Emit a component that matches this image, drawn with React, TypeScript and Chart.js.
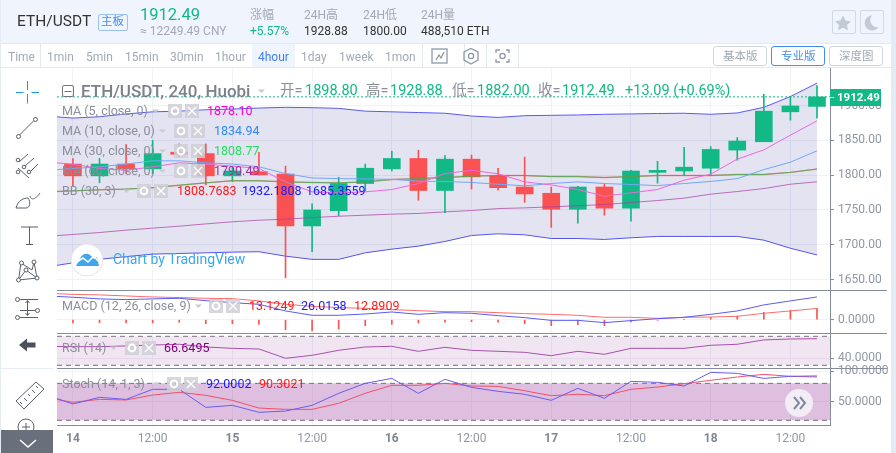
import { useEffect, useRef } from 'react'
import { Chart, registerables } from 'chart.js'

Chart.register(...registerables)

// candles, index 0 is the 14th 00:00, one candle every 4 hours
const opens = [1816, 1799, 1816, 1809, 1833, 1831, 1799, 1805, 1801.5, 1727, 1749, 1788, 1809, 1824, 1778, 1823, 1799, 1783, 1774, 1751, 1783, 1752.6, 1804, 1806, 1810, 1836, 1848, 1891, 1898.8]
const closes = [1799, 1816, 1809, 1831, 1830, 1799, 1806, 1800.5, 1727, 1750, 1788, 1810, 1824, 1778, 1823, 1797.6, 1782, 1773, 1751, 1783, 1752.6, 1806, 1807, 1811.5, 1837, 1849, 1892, 1899.4, 1912.49]
const highs = [1824, 1824, 1844, 1850, 1845, 1845, 1812, 1833, 1813, 1759, 1797, 1816, 1834.5, 1836, 1828, 1829, 1810, 1826, 1783, 1784, 1787, 1807, 1820, 1840, 1841, 1854, 1916, 1913, 1928.88]
const lows = [1784, 1789, 1802, 1802, 1826, 1786, 1791, 1800, 1652.5, 1690, 1742, 1777, 1806, 1764, 1746, 1780, 1778.5, 1761, 1725, 1731, 1742.5, 1734, 1788.5, 1800, 1800, 1821.5, 1848, 1879, 1882]

// line series start one candle earlier, index -1, off the left edge
const ma5 = [1819, 1815.8, 1809.6, 1807, 1812, 1817.7, 1815.8, 1813, 1809.6, 1790.4, 1776, 1774.6, 1776, 1779.4, 1788, 1802.4, 1807, 1802, 1790.4, 1786, 1779.4, 1769.8, 1774.6, 1779.4, 1792.8, 1801.4, 1823, 1836.4, 1857.5, 1878.1]
const ma10 = [1807, 1809.6, 1812, 1816, 1820.6, 1820.6, 1817.7, 1816, 1812, 1802.4, 1796, 1795, 1794.7, 1794, 1791.4, 1791, 1789.5, 1787, 1784.7, 1788, 1790.4, 1788, 1786.6, 1785, 1788, 1791, 1795, 1808, 1818.7, 1834.94]
const ma30 = [1776, 1777.5, 1779, 1780, 1782, 1785.6, 1789, 1792, 1792, 1790.4, 1789.5, 1789, 1790.4, 1793.8, 1795, 1796.6, 1798.6, 1799.5, 1799.5, 1798, 1798, 1796.6, 1798, 1799.5, 1799.5, 1799.5, 1801, 1801, 1804, 1808.77]
const ma60 = [1712, 1714.8, 1717.6, 1721, 1723.9, 1726.7, 1730, 1733, 1735.3, 1736.8, 1739, 1741, 1742.5, 1744, 1745, 1747.3, 1749.2, 1752, 1753, 1754.5, 1756, 1757.9, 1760.7, 1763.6, 1767, 1772.7, 1776.5, 1780.8, 1787, 1790.49]
const bbUpper = [1885, 1882, 1884, 1888, 1891, 1892, 1894, 1895, 1896.5, 1897.5, 1897, 1896, 1892, 1891, 1890, 1889, 1885, 1883, 1885.5, 1886, 1886.5, 1887.5, 1888, 1888.6, 1889, 1887.5, 1889.4, 1897.5, 1913, 1932.18]
const bbLower = [1668, 1674, 1679, 1683, 1686.5, 1687.5, 1688.4, 1689.4, 1690, 1683.6, 1679, 1679, 1688.4, 1693.7, 1698, 1704.7, 1713.3, 1715.7, 1714.3, 1709, 1709, 1707.6, 1710, 1712, 1712, 1712, 1712, 1706.6, 1695, 1685.36]
const macdLine = [27.2, 25.7, 23.8, 23, 23.8, 24.5, 21.8, 19.5, 17.6, 10, 5, 5, 6.5, 8.8, 6.1, 8, 7.3, 4.6, 2.3, -0.8, -0.8, -3.4, -1.1, 1.1, 2.7, 6.1, 10, 16.9, 21.5, 26.02]
const macdSignal = [30.3, 29, 28.4, 27.2, 26, 25.3, 24.5, 24.1, 21.5, 17.6, 15.3, 13.8, 13, 11.5, 10.3, 9.2, 9.2, 8, 6.9, 6.1, 5, 2.7, 2.7, 1.5, 2.7, 3, 3.8, 7.3, 10, 12.89]
const macdHist = [-3.8, -3.4, -3.8, -3.8, -3, -4.6, -4.6, -5.4, -11.5, -13, -10.7, -7, -5.4, -3.8, -3, -2.3, -3, -4.6, -6.9, -5.7, -6.9, -2.7, -0.8, 0, 2.7, 4.2, 8.4, 10.7, 13.12]
const rsi = [56.2, 55.7, 55.7, 56.7, 58, 59, 55.3, 53.4, 52.5, 39.7, 43.8, 50.7, 55.3, 56.2, 49.3, 54.8, 50.7, 49.3, 47.9, 43.3, 49.3, 45.2, 53.4, 53.4, 53.4, 57.6, 59, 65, 66.3, 66.65]
const stochK = [61, 46.5, 57.3, 54, 70.3, 70.3, 41, 44.3, 33, 35, 44.3, 63.8, 80, 88, 63.8, 86.5, 73.5, 67, 62.2, 52.4, 71.9, 55.7, 83.2, 81.6, 75.7, 97.8, 96.2, 88, 91.4, 92]
const stochD = [56.8, 49.2, 54, 53, 61, 65.4, 60.5, 52.4, 39.9, 37.8, 37.8, 47.6, 63.8, 76.8, 76.8, 80, 75.7, 75.1, 68, 60, 62.2, 60, 70.3, 74, 79.5, 84.9, 90.3, 94.6, 91.4, 90.3]

const lastPrice = 1912.49
const xTicks = [0, 3, 6, 9, 12, 15, 18, 21, 24, 27]
const xTickLabels = ['14', '12:00', '15', '12:00', '16', '12:00', '17', '12:00', '18', '12:00']
const priceTicks = [1650, 1700, 1750, 1800, 1850, 1900]
const macdTicks = [0]
const rsiTicks = [40]
const stochTicks = [50, 100]

const periods = ['1min', '5min', '15min', '30min', '1hour', '4hour', '1day', '1week', '1mon']

const GREEN = '#12b886'
const RED = '#fa5252'
const AXIS = '#868d9a'
const GRID = '#f0f2f8'
const TICK = '#8f98a3'
const X_MIN = -0.6
const X_MAX = 28.49
const FONT = 'Roboto, "Noto Sans CJK SC", sans-serif'

const line = (values: number[]) => values.map((y, i) => ({ x: i - 1, y }))
const hline = (y: number) => [{ x: X_MIN, y }, { x: X_MAX, y }]

function lineSet(data: { x: number; y: number }[], color: string, yAxisID: string, extra: object = {}) {
  return { type: 'line', data, yAxisID, borderColor: color, borderWidth: 1, pointRadius: 0, tension: 0, fill: false, order: 1, ...extra }
}

// tick labels must not push the plot area in, the panes have fixed sizes
function noLabelPadding(scale: any) {
  scale.paddingTop = 0
  scale.paddingBottom = 0
  scale.paddingLeft = 0
  scale.paddingRight = 0
}

function paneAxis(min: number, max: number, weight: number, ticks: number[], decimals: number) {
  return {
    type: 'linear',
    position: 'right',
    stack: 'panes',
    stackWeight: weight,
    min,
    max,
    border: { color: AXIS },
    grid: { color: GRID, tickColor: AXIS, tickLength: 4 },
    afterFit: (scale: any) => {
      scale.width = 61
      noLabelPadding(scale)
    },
    afterBuildTicks: (scale: any) => { scale.ticks = ticks.map(value => ({ value })) },
    ticks: {
      color: TICK,
      padding: 4,
      font: { family: FONT, size: 12 },
      callback: (v: any) => Number(v).toFixed(decimals),
    },
  }
}

// horizontal rules between the panes
const paneRules = {
  id: 'paneRules',
  afterDraw(chart: any) {
    const { ctx, chartArea } = chart
    ctx.save()
    ctx.strokeStyle = AXIS
    ctx.lineWidth = 1
    ;['yPrice', 'yMacd', 'yRsi'].forEach(id => {
      const y = Math.round(chart.scales[id].bottom) + 0.5
      ctx.beginPath()
      ctx.moveTo(chartArea.left, y)
      ctx.lineTo(chartArea.right + 57, y)
      ctx.stroke()
    })
    ctx.restore()
  },
}

function Txt({ x, y, size = 12, color = '#8a8f9a', weight = 400, children }: any) {
  return (
    <span
      style={{
        position: 'absolute',
        left: x,
        top: y,
        transform: 'translateY(-50%)',
        fontFamily: FONT,
        fontSize: size,
        fontWeight: weight,
        color,
        whiteSpace: 'nowrap',
        lineHeight: 1,
        pointerEvents: 'none',
      }}
    >
      {children}
    </span>
  )
}

function Icons() {
  const stroke = '#5a6069'
  const gearBoxes = [[168, 104], [174, 124], [174, 144], [174, 164], [137, 184], [209, 299], [125, 341], [167, 377]]
  const carets = [[152, 111], [159, 131], [159, 151], [159, 171], [123, 191], [195, 306], [110, 348], [153, 384], [258, 91]]
  return (
    <svg width={896} height={453} style={{ position: 'absolute', left: 0, top: 0, pointerEvents: 'none' }}>
      {/* left tools */}
      <g stroke="#1e96e6" strokeWidth={1}>
        <path d="M27.5 81v9M27.5 94v9.5M16 92.5h7.5M31.5 92.5h7.5" fill="none" />
      </g>
      <g stroke={stroke} strokeWidth={1} fill="#fff">
        <path d="M19.5 135L34 120.5" />
        <circle cx={18.5} cy={136.5} r={2} />
        <circle cx={35.5} cy={119.5} r={2} />
        <path d="M19 162L28 154M25 166L34 158M31 171L38 164M18 168L29 178" fill="none" />
        <circle cx={18} cy={160} r={1.8} />
        <circle cx={24} cy={167} r={1.8} />
        <circle cx={18} cy={172} r={1.8} />
        <circle cx={29} cy={172} r={1.8} />
        <path d="M16 208C18 200 24 198 28 198C31 202 30 208 26 208ZM30 196C31 201 36 199 40 193" fill="none" />
        <path d="M21 227H38M29.5 227V244.5M26 244.5H33" fill="none" />
        <path d="M18.5 280L21 263L32 270L34 262L37 278L26 270L18.5 280L37 278" fill="none" />
        <circle cx={21.5} cy={263} r={2} />
        <circle cx={34} cy={262} r={2} />
        <circle cx={26} cy={270} r={2} />
        <circle cx={18.5} cy={280} r={2} />
        <circle cx={37} cy={278} r={2} />
        <path d="M20 299.5H38M20 310.5H38M20 317.5H38M27.5 301V315M25.5 303L27.5 300.5L29.5 303M25.5 313L27.5 315.5L29.5 313" fill="none" />
        <circle cx={17.5} cy={299.5} r={2} />
        <circle cx={37.5} cy={310.5} r={2} />
        <circle cx={17.5} cy={317.5} r={2} />
        <path d="M16 401L36 382L44 389L24 409Z" fill="none" />
        <path d="M20 402L22 404M24 398L27 401M28 394L30 396M32 390L35 393M36 386L38 388" fill="none" />
        <circle cx={26} cy={427} r={8} fill="none" />
        <path d="M22 427H30M26 423V431M20 433L15 438" fill="none" />
      </g>
      <path d="M19 345L27 338.5V342.5H35.5V347.5H27V351.5Z" fill="#4b505a" />
      {/* bottom left block */}
      <rect x={1} y={430} width={52} height={23} fill="#6a6f7c" />
      <path d="M20 440L28 447L36 440" stroke="#fff" strokeWidth={1.5} fill="none" />
      {/* toolbar icons */}
      <g stroke="#8e99a8" strokeWidth={1.3} fill="none">
        <rect x={432} y={49} width={15} height={14} />
        <path d="M436 60L439 55L441 58L444 52" />
        <path d="M471 48.5L478 52V60L471 64L464 60V52Z" />
        <circle cx={471} cy={56} r={2.6} />
        <path d="M496 53V50H500M506 50H509V53M509 59V62H506M500 62H496V59" />
        <circle cx={502.5} cy={56} r={2.6} />
      </g>
      {/* star and moon */}
      <path d="M843 15.5L845.5 20.5L851 21.3L847 25L848 30.3L843 27.8L838 30.3L839 25L835 21.3L840.5 20.5Z" fill="#c3cad6" />
      <path d="M872 15.5A7.5 7.5 0 1 0 878.5 27A7 7 0 0 1 872 15.5Z" fill="#c3cad6" />
      {/* indicator controls */}
      {carets.map(([x, y], i) => (
        <path key={i} d={`M${x} ${y - 1.5}h7l-3.5 3.5z`} fill="#c8ccd2" />
      ))}
      {gearBoxes.map(([x, y], i) => (
        <g key={i}>
          <rect x={x} y={y} width={14} height={14} fill="#cfcfd6" fillOpacity={0.85} />
          <circle cx={x + 7} cy={y + 7} r={3.4} fill="none" stroke="#fff" strokeWidth={2} />
          <rect x={x + 17} y={y} width={14} height={14} fill="#cfcfd6" fillOpacity={0.85} />
          <path d={`M${x + 20} ${y + 3}l8 8M${x + 28} ${y + 3}l-8 8`} stroke="#fff" strokeWidth={1.3} />
        </g>
      ))}
      {/* title collapse box */}
      <rect x={62.5} y={85.5} width={11} height={11} rx={1.5} fill="none" stroke="#6f747d" />
      <path d="M64.5 91.5H71.5" stroke="#6f747d" />
      {/* tradingview logo */}
      <circle cx={87} cy={260} r={16} fill="#fff" stroke="#e3e3e8" />
      <path d="M76 266L80 259C81 255 85 253 88 254C91 255 92 257 94 259L97 257L99 266Z" fill="#3ea6ee" />
      <path d="M77 262L83 258L88 262L94 256L98 261" fill="none" stroke="#fff" strokeWidth={1.6} />
      {/* scroll to latest */}
      <circle cx={799} cy={403} r={14} fill="#f3edf6" />
      <path d="M794 397L799 403L794 409M800 397L805 403L800 409" fill="none" stroke="#7d8b9e" strokeWidth={2} />
    </svg>
  )
}

export default function App() {
  const canvasRef = useRef<HTMLCanvasElement>(null)

  useEffect(() => {
    if (!canvasRef.current) return
    const chart = new Chart(canvasRef.current, {
      type: 'bar',
      data: {
        datasets: [
          lineSet(hline(lastPrice), GREEN, 'yPrice', { borderDash: [2, 2], order: 0 }),
          lineSet(line(ma5), '#ee66dd', 'yPrice'),
          lineSet(line(ma10), '#70a8f8', 'yPrice'),
          lineSet(line(ma60), 'rgba(170,60,160,0.7)', 'yPrice'),
          lineSet(line(ma30), 'rgba(70,170,80,0.85)', 'yPrice'),
          lineSet(line(ma30), 'rgba(255,60,60,0.45)', 'yPrice', { order: 2, borderWidth: 1.4 }),
          lineSet(line(bbUpper), '#5a5af0', 'yPrice', { fill: { target: '+1' }, backgroundColor: 'rgba(0,0,128,0.11)', order: 20 }),
          lineSet(line(bbLower), '#5a5af0', 'yPrice', { order: 20 }),
          {
            type: 'bar',
            data: opens.map((o, i) => ({ x: i, y: [o, closes[i]] })),
            yAxisID: 'yPrice',
            barThickness: 17,
            grouped: false,
            backgroundColor: opens.map((o, i) => (closes[i] >= o ? GREEN : RED)),
            order: 10,
          },
          {
            type: 'bar',
            data: highs.map((h, i) => ({ x: i, y: [lows[i], h] })),
            yAxisID: 'yPrice',
            barThickness: 1,
            grouped: false,
            backgroundColor: opens.map((o, i) => (closes[i] >= o ? GREEN : RED)),
            order: 11,
          },
          lineSet(line(macdLine), '#5a5af5', 'yMacd'),
          lineSet(line(macdSignal), '#ff6b6b', 'yMacd'),
          {
            type: 'bar',
            data: macdHist.map((y, i) => ({ x: i, y })),
            yAxisID: 'yMacd',
            barThickness: 1,
            grouped: false,
            backgroundColor: RED,
            order: 3,
          },
          lineSet(line(rsi), '#a650ae', 'yRsi'),
          lineSet(hline(70), '#77737c', 'yRsi', { borderDash: [5, 4], fill: { target: '+1' }, backgroundColor: 'rgba(128,0,128,0.1)', order: 5 }),
          lineSet(hline(30), '#77737c', 'yRsi', { borderDash: [5, 4], order: 5 }),
          lineSet(line(stochK), '#6a5cf0', 'yStoch'),
          lineSet(line(stochD), '#f0506a', 'yStoch'),
          lineSet(hline(80), '#77737c', 'yStoch', { borderDash: [5, 4], fill: { target: '+1' }, backgroundColor: 'rgba(128,0,128,0.25)', order: 5 }),
          lineSet(hline(20), '#77737c', 'yStoch', { borderDash: [5, 4], order: 5 }),
        ] as any,
      },
      options: {
        animation: false,
        responsive: false,
        layout: { padding: 0 },
        plugins: { legend: { display: false }, tooltip: { enabled: false } },
        scales: {
          x: {
            type: 'linear',
            offset: false,
            min: X_MIN,
            max: X_MAX,
            border: { color: AXIS },
            grid: { color: GRID, drawTicks: false, offset: false },
            afterFit: (scale: any) => {
              scale.height = 28
              noLabelPadding(scale)
            },
            afterBuildTicks: (scale: any) => { scale.ticks = xTicks.map(value => ({ value })) },
            ticks: {
              padding: 7,
              maxRotation: 0,
              autoSkip: false,
              color: (c: any) => (xTickLabels[xTicks.indexOf(c.tick?.value)]?.includes(':') ? TICK : '#7e8793'),
              font: (c: any) => ({
                family: FONT,
                size: 12,
                weight: xTickLabels[xTicks.indexOf(c.tick?.value)]?.includes(':') ? 'normal' : 'bold',
              }),
              callback: (v: any) => xTickLabels[xTicks.indexOf(Number(v))] ?? '',
            },
          },
          yPrice: paneAxis(1635, 1954, 222, priceTicks, 2),
          yMacd: paneAxis(-15.3, 34, 43, macdTicks, 4),
          yRsi: paneAxis(26.3, 74.55, 35, rsiTicks, 4),
          yStoch: paneAxis(12.4, 104.9, 57, stochTicks, 4),
        } as any,
      },
      plugins: [paneRules],
    })
    return () => chart.destroy()
  }, [])

  const headerStats = [
    { x: 250, label: '涨幅', value: '+5.57%', color: GREEN },
    { x: 304, label: '24H高', value: '1928.88', color: '#333' },
    { x: 363, label: '24H低', value: '1800.00', color: '#333' },
    { x: 421, label: '24H量', value: '488,510 ETH', color: '#333' },
  ]
  const periodX = [47, 86, 125, 170, 215, 258, 301, 339, 385]
  const versions = [
    { x: 713, w: 54, label: '基本版', on: false },
    { x: 771, w: 54, label: '专业版', on: true },
    { x: 829, w: 54, label: '深度图', on: false },
  ]

  return (
    <div style={{ position: 'fixed', left: 0, top: 0, width: 896, height: 453, background: '#fff', overflow: 'hidden' }}>
      {/* header and toolbar */}
      <div style={{ position: 'absolute', left: 0, top: 0, width: 891, height: 43, background: '#f0f4fd', borderBottom: '1px solid #e3e8f1' }} />
      <div style={{ position: 'absolute', left: 891, top: 0, width: 5, height: 453, background: '#e4ebf5' }} />
      <div style={{ position: 'absolute', left: 0, top: 0, width: 1, height: 453, background: '#e4ebf5' }} />
      <div style={{ position: 'absolute', left: 0, top: 67, width: 891, height: 1, background: '#e3e8f1' }} />
      <div style={{ position: 'absolute', left: 252, top: 44, width: 43, height: 23, background: '#f0f4fd' }} />
      {[40, 422, 464, 486, 518].map(x => (
        <div key={x} style={{ position: 'absolute', left: x, top: 44, width: 1, height: 23, background: '#e3e8f1' }} />
      ))}
      <div style={{ position: 'absolute', left: 0, top: 368, width: 53, height: 1, background: '#e8ecf4' }} />
      <div style={{ position: 'absolute', left: 832, top: 10, width: 22, height: 22, border: '1px solid #d3d9e3', borderRadius: 2 }} />
      <div style={{ position: 'absolute', left: 860, top: 10, width: 22, height: 22, border: '1px solid #d3d9e3', borderRadius: 2 }} />
      <div style={{ position: 'absolute', left: 98, top: 14, width: 28, height: 15, border: '1px solid #9cc2f5', borderRadius: 2 }} />
      {versions.map(v => (
        <div key={v.x} style={{ position: 'absolute', left: v.x, top: 46, width: v.w - 2, height: 18, border: `1px solid ${v.on ? '#3f8ef0' : '#ced5df'}`, borderRadius: 3 }} />
      ))}

      <canvas ref={canvasRef} width={834} height={385} style={{ position: 'absolute', left: 57, top: 68, width: 834, height: 385 }} />
      <Icons />

      <Txt x={17} y={22} size={15.5} color="#333">ETH/USDT</Txt>
      <Txt x={101} y={22} size={11.5} color="#3f8ef0">主板</Txt>
      <Txt x={140} y={15} size={16.5} color={GREEN}>1912.49</Txt>
      <Txt x={140} y={31} size={12} color="#a3a9b5">≈ 12249.49 CNY</Txt>
      {headerStats.map(s => (
        <span key={s.x}>
          <Txt x={s.x} y={15} size={12} color="#a3a9b5">{s.label}</Txt>
          <Txt x={s.x} y={31} size={12} color={s.color}>{s.value}</Txt>
        </span>
      ))}

      <Txt x={8} y={56.5} size={12} color="#a3a9b5">Time</Txt>
      {periods.map((p, i) => (
        <Txt key={p} x={periodX[i]} y={56.5} size={12} color={p === '4hour' ? '#3f7ff0' : '#a3a9b5'}>{p}</Txt>
      ))}
      {versions.map(v => (
        <Txt key={v.x} x={v.x + 10} y={56.5} size={11.5} color={v.on ? '#3f8ef0' : '#a3a9b5'}>{v.label}</Txt>
      ))}

      {/* main pane legend */}
      <Txt x={81} y={91} size={17} weight={500} color="#7b808a">ETH/USDT, 240, Huobi</Txt>
      <Txt x={280} y={91} size={14.5}>开=</Txt>
      <Txt x={305} y={91} size={14.5} color={GREEN}>1898.80</Txt>
      <Txt x={366} y={91} size={14.5}>高=</Txt>
      <Txt x={390} y={91} size={14.5} color={GREEN}>1928.88</Txt>
      <Txt x={452} y={91} size={14.5}>低=</Txt>
      <Txt x={477} y={91} size={14.5} color={GREEN}>1882.00</Txt>
      <Txt x={538} y={91} size={14.5}>收=</Txt>
      <Txt x={562} y={91} size={14.5} color={GREEN}>1912.49</Txt>
      <Txt x={625} y={91} size={14.5} color={GREEN}>+13.09 (+0.69%)</Txt>

      <Txt x={62} y={111} size={12.5}>MA (5, close, 0)</Txt>
      <Txt x={207} y={111} size={12.5} color="#ff00dd">1878.10</Txt>
      <Txt x={62} y={131} size={12.5}>MA (10, close, 0)</Txt>
      <Txt x={214} y={131} size={12.5} color="#2a8cff">1834.94</Txt>
      <Txt x={62} y={151} size={12.5}>MA (30, close, 0)</Txt>
      <Txt x={214} y={151} size={12.5} color="#22e060">1808.77</Txt>
      <Txt x={62} y={171} size={12.5}>MA (60, close, 0)</Txt>
      <Txt x={214} y={171} size={12.5} color="#a030a0">1790.49</Txt>
      <Txt x={62} y={191} size={12.5}>BB (30, 3)</Txt>
      <Txt x={177} y={191} size={12.5} color="#ff1a1a">1808.7683</Txt>
      <Txt x={242} y={191} size={12.5} color="#1a1aff">1932.1808</Txt>
      <Txt x={306} y={191} size={12.5} color="#1a1aff">1685.3559</Txt>
      <Txt x={113} y={259} size={14} color="#3ea6ee">Chart by TradingView</Txt>

      <Txt x={62} y={306} size={12.5}>MACD (12, 26, close, 9)</Txt>
      <Txt x={249} y={306} size={12.5} color="#ff1a1a">13.1249</Txt>
      <Txt x={301} y={306} size={12.5} color="#1a1aff">26.0158</Txt>
      <Txt x={354} y={306} size={12.5} color="#ff1a1a">12.8909</Txt>
      <Txt x={62} y={348} size={12.5}>RSI (14)</Txt>
      <Txt x={164} y={348} size={12.5} color="#800080">66.6495</Txt>
      <Txt x={62} y={384} size={12.5}>Stoch (14, 1, 3)</Txt>
      <Txt x={206} y={384} size={12.5} color="#1a1aff">92.0002</Txt>
      <Txt x={259} y={384} size={12.5} color="#ff1a1a">90.3021</Txt>

      {/* last price tag */}
      <div style={{ position: 'absolute', left: 830, top: 89, width: 51, height: 17, background: GREEN }} />
      <div style={{ position: 'absolute', left: 830, top: 97, width: 4, height: 1, background: '#fff' }} />
      <Txt x={837} y={97.5} size={11.5} weight={700} color="#fff">1912.49</Txt>
    </div>
  )
}
